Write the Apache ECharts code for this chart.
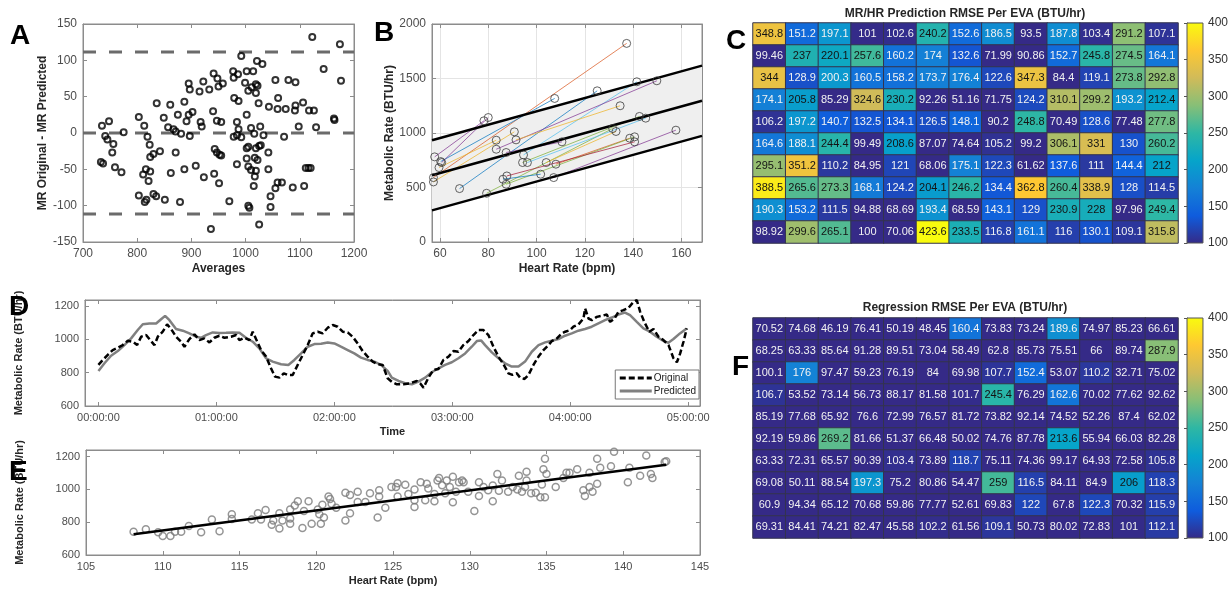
<!DOCTYPE html>
<html><head><meta charset="utf-8">
<script src="https://cdn.jsdelivr.net/npm/echarts@6/dist/echarts.min.js"></script>
<style>html,body{margin:0;padding:0;background:#fff}#c{width:1231px;height:594px}</style>
</head><body><div id="c"></div>
<script>
// ---------- Panel A (Bland-Altman) ----------
const aAvg = [735,748,775,741,745,756,754,733,737,759,771,
803,813,819,823,824,830,842,803,814,817,830,835,851,811,816,821,824,
836,849,857,861,867,871,875,881,887,891,895,897,862,871,887,879,
895,897,902,915,922,917,919,908,923,933,940,941,948,950,958,947,955,943,947,952,955,942,951,936,
970,977,978,979,987,992,986,999,1002,984,987,978,984,992,984,1002,1002,1005,1002,1005,1005,1007,1010,1005,1011,1019,1021,1014,1019,1022,1031,1024,1027,1016,1010,1015,1017,1019,1017,1019,1022,1025,1028,1033,1025,1042,1042,1043,1046,1046,
1055,1059,1067,1055,1060,1059,1071,1074,1079,1092,1087,1091,1092,1098,1106,1108,1111,1116,1120,1117,1126,1130,1123,1144,1163,1164,1174,1176];
const aDiff = [10,16,1,-4,-9,-15,-27,-40,-42,-47,-54,
22,10,-5,-16,-33,-29,-25,-86,-95,-92,-84,-87,-92,-57,-50,-66,-53,
41,21,8,39,5,2,25,-1,43,16,25,-4,-55,-27,-50,-95,
68,60,29,57,71,15,9,-45,-61,60,30,82,75,64,68,17,15,-22,-27,-30,-31,-56,-69,-132,
-94,85,76,48,44,106,81,69,85,15,5,-5,-3,-6,-43,25,-21,-19,-35,-46,-100,-103,7,58,63,67,99,85,55,65,95,41,9,-1,-51,-73,-60,-52,-34,-21,-37,-18,-17,-3,-126,-27,-50,36,-87,-102,
-76,-68,-68,73,48,33,-5,33,73,70,-75,31,38,9,42,-73,-48,-48,-48,31,31,8,132,88,20,18,122,72];
const aLimits = [-111.5, 0, 111.5];
const aLimitX = [700, 1200];

// ---------- Panel B (HR vs MR pairs with band) ----------
const bStartHR = [57.3,60.3,68.1,94.6,57.8,60.7,59.6,57.3,83.3,91.5,87.4,79.3,94.2,96.2,104,108,87.4,107.1,87.7,86.1];
const bStartMR = [591,738,490,799,781,729,683,551,851,937,821,447,729,729,729,714,530,591,606,576];
const bEndHR   = [137.3,107.5,125.1,141.5,78.2,80,83.3,90.8,149.8,134.6,110.5,131.5,142.6,145.2,132.9,138.6,140.6,157.7,140.6,101.7];
const bEndMR   = [1822,1317,1387,1470,1112,1142,934,1011,1479,1250,919,1041,1152,1136,1014,952,965,1026,919,622];
const bPairColors = ['#D95319','#0072BD','#0072BD','#4DBEEE','#7E2F8E','#7E2F8E','#EDB120','#EDB120','#7E2F8E','#EDB120','#7E2F8E','#77AC30','#77AC30','#4DBEEE','#EDB120','#D95319','#77AC30','#7E2F8E','#A2142F','#0072BD'];
const bLineHR = [56.7, 168.5];
const bUpper  = [934, 1618];
const bMid    = [612, 1296];
const bLower  = [290, 974];

// ---------- Panel C (MR/HR prediction RMSE) ----------
const cValues = [
[348.8,151.2,197.1,101,102.6,240.2,152.6,186.5,93.5,187.8,103.4,291.2,107.1],
[99.46,237,220.1,257.6,160.2,174,132.6,71.99,90.86,152.7,245.8,274.5,164.1],
[344,128.9,200.3,160.5,158.2,173.7,176.4,122.6,347.3,84.4,119.1,273.8,292.8],
[174.1,205.8,85.29,324.6,230.2,92.26,51.16,71.75,124.2,310.1,299.2,193.2,212.4],
[106.2,197.2,140.7,132.5,134.1,126.5,148.1,90.2,248.8,70.49,128.6,77.48,277.8],
[164.6,188.1,244.4,99.49,208.6,87.07,74.64,105.2,99.2,306.1,331,130,260.2],
[295.1,351.2,110.2,84.95,121,68.06,175.1,122.3,61.62,137.6,111,144.4,212],
[388.5,265.6,273.3,168.1,124.2,204.1,246.2,134.4,362.8,260.4,338.9,128,114.5],
[190.3,153.2,111.5,94.88,68.69,193.4,68.59,143.1,129,230.9,228,97.96,249.4],
[98.92,299.6,265.1,100,70.06,423.6,233.5,116.8,161.1,116,130.1,109.1,315.8]];

// ---------- Panel F (Regression RMSE) ----------
const fValues = [
[70.52,74.68,46.19,76.41,50.19,48.45,160.4,73.83,73.24,189.6,74.97,85.23,66.61],
[68.25,63.33,85.64,91.28,89.51,73.04,58.49,62.8,85.73,75.51,66,89.74,287.9],
[100.1,176,97.47,59.23,76.19,84,69.98,107.7,152.4,53.07,110.2,32.71,75.02],
[106.7,53.52,73.14,56.73,88.17,81.58,101.7,245.4,76.29,162.6,70.02,77.62,92.62],
[85.19,77.68,65.92,76.6,72.99,76.57,81.72,73.82,92.14,74.52,52.26,87.4,62.02],
[92.19,59.86,269.2,81.66,51.37,66.48,50.02,74.76,87.78,213.6,55.94,66.03,82.28],
[63.33,72.31,65.57,90.39,103.4,73.89,118.7,75.11,74.36,99.17,64.93,72.58,105.8],
[69.08,50.11,88.54,197.3,75.2,80.86,54.47,259,116.5,84.11,84.9,206,118.3],
[60.9,94.34,65.12,70.68,59.86,77.77,52.61,69.83,122,67.8,122.3,70.32,115.9],
[69.31,84.41,74.21,82.47,45.58,102.2,61.56,109.1,50.73,80.02,72.83,101,112.1]];
const colorRange = [100, 400];

// ---------- Panel D (time series, hours) ----------
const dOrigT = [0,0.037,0.079,0.121,0.164,0.206,0.249,0.291,0.328,0.362,0.404,0.446,0.475,0.503,0.545,0.582,0.616,0.658,0.701,0.729,0.771,0.814,0.856,0.898,0.941,0.983,1.025,1.068,1.124,1.167,1.195,1.237,1.28,1.308,1.336,1.379,1.421,1.463,1.497,1.534,1.571,1.605,1.647,1.689,1.732,1.774,1.816,1.859,1.901,1.944,1.986,2.028,2.071,2.113,2.155,2.198,2.24,2.282,2.325,2.367,2.41,2.452,2.487,2.53,2.586,2.643,2.699,2.727,2.756,2.798,2.84,2.883,2.925,2.968,3.01,3.052,3.094,3.137,3.179,3.222,3.264,3.306,3.349,3.391,3.434,3.476,3.51,3.546,3.575,3.612,3.646,3.688,3.731,3.773,3.816,3.844,3.887,3.929,3.957,3.999,4.027,4.07,4.112,4.126,4.155,4.183,4.225,4.268,4.31,4.338,4.375,4.409,4.451,4.494,4.536,4.564,4.593,4.63,4.67,4.706,4.748,4.79,4.833,4.875,4.904,4.932,4.96,4.988];
const dOrig = [846,876,906,935,949,965,991,985,965,1015,1025,989,965,1015,1045,1089,1061,1015,985,955,1001,1029,995,1005,981,1009,1021,1009,1015,1025,995,1009,995,1045,1001,935,896,826,776,770,796,786,786,846,906,965,1035,1045,1035,1069,1085,1075,1045,1041,1015,975,929,896,866,850,846,766,745,730,730,736,750,736,710,770,816,822,876,896,929,925,965,989,1025,1055,1055,1025,955,896,850,796,786,796,770,762,786,846,896,935,965,989,1005,1035,1045,1055,1075,1089,1124,1184,1124,1114,1134,1140,1148,1104,1124,1164,1174,1188,1224,1234,1164,1100,1045,1061,1015,995,965,886,862,915,985,1065];
const dPredT = [0,0.051,0.107,0.164,0.22,0.277,0.333,0.376,0.432,0.489,0.531,0.565,0.602,0.658,0.715,0.771,0.828,0.87,0.912,0.969,1.025,1.082,1.138,1.195,1.251,1.308,1.364,1.421,1.477,1.548,1.61,1.661,1.718,1.774,1.831,1.887,1.944,2.0,2.056,2.113,2.169,2.226,2.282,2.339,2.395,2.452,2.487,2.544,2.6,2.657,2.713,2.77,2.826,2.883,2.939,2.996,3.052,3.109,3.165,3.208,3.244,3.278,3.335,3.392,3.447,3.504,3.561,3.617,3.674,3.731,3.787,3.843,3.9,3.956,4.013,4.069,4.125,4.182,4.239,4.295,4.352,4.408,4.464,4.507,4.564,4.62,4.676,4.733,4.79,4.832,4.875,4.93,4.987];
const dPred = [810,856,901,929,965,1005,1055,1090,1094,1094,1120,1140,1114,1061,1051,1035,1015,1009,1025,1041,1037,1039,1041,1039,1009,985,945,886,866,850,846,876,915,955,971,973,981,975,955,935,915,890,876,866,846,810,770,750,736,730,746,770,802,826,846,862,886,915,955,989,993,965,921,886,856,836,836,866,925,965,981,991,1001,1021,1035,1051,1061,1075,1095,1114,1130,1148,1160,1144,1104,1065,1045,1015,989,979,1001,1035,1065];
const dTimeTicks = ['00:00:00','01:00:00','02:00:00','03:00:00','04:00:00','05:00:00'];

// ---------- Panel E (HR vs MR scatter + regression) ----------
const eHR = [108.1,108.9,109.7,110,110.5,110.8,111.2,111.7,112.5,113.2,113.7,114.5,114.5,115.8,116.2,116.4,116.7,117.1,117.2,117.6,117.6,117.8,118.3,118.3,118.3,118.6,118.8,119.1,119.2,119.5,119.7,120.1,120.2,120.3,120.4,120.5,120.8,120.9,121,121.3,121.9,121.9,122.2,122.2,122.7,122.7,123.2,123.5,124,124.1,124.1,124.5,124.9,125.3,125.2,125.3,125.8,126,126.4,126.4,126.4,126.8,127.1,127.2,127.3,127.7,127.7,127.9,128,128.2,128.4,128.5,128.7,128.9,128.9,129.1,129.3,129.5,129.6,129.9,130.3,130.6,130.6,130.9,131.2,131.5,131.5,131.8,131.9,132.1,132.5,132.8,133.1,133.2,133.4,133.6,133.7,133.7,134,134.3,134.6,134.7,134.8,134.9,134.9,135,135.6,136.1,136.3,136.5,137,137.5,137.4,137.8,137.8,138,138.3,138.3,138.5,139.2,139.4,140.3,140.4,141.1,141.5,141.8,141.9,142.7,142.8];
const eMR = [742,757,738,716,716,742,742,777,738,816,745,849,820,816,855,816,874,784,810,855,761,810,790,823,878,902,927,765,868,927,790,878,849,790,907,829,956,941,913,888,980,810,855,966,985,923,923,976,829,956,995,888,1015,1038,1015,956,1028,972,892,933,999,1044,933,1034,1005,927,972,1054,1069,1025,976,1054,1015,921,1077,985,1044,1054,1044,985,868,1044,960,1015,995,927,1024,1093,991,1054,985,1015,999,1083,985,1015,1108,1054,976,980,952,1030,1122,1186,952,1093,1015,1069,1102,1102,1122,960,995,1015,1102,985,1034,1186,1132,1141,1229,1044,1132,1083,1206,1093,1069,1167,1171];
const eLineHR = [108.1, 142.8];
const eLineMR = [726, 1150];

// ---------- styling / build ----------
const FONT = '"Liberation Sans", Arial, Helvetica, sans-serif';
const parula = ['#352a87','#0f5cdd','#1481d6','#06a4ca','#2eb7a4','#87bf77','#d1bb59','#fec832','#f9fb0e'];
const AX = '#8c8c8c';

function merge(a, b) {
  const r = Object.assign({}, a);
  for (const k in b) {
    const v = b[k];
    if (v && typeof v === 'object' && !Array.isArray(v) && r[k] && typeof r[k] === 'object' && !Array.isArray(r[k])) r[k] = merge(r[k], v);
    else r[k] = v;
  }
  return r;
}
const plain = v => String(v);
const baseAxis = {
  type: 'value',
  axisLine: {show: true, onZero: false, lineStyle: {color: AX, width: 1}},
  axisTick: {show: true, inside: true, length: 4, lineStyle: {color: AX}},
  axisLabel: {color: '#4d4d4d', fontSize: 12, fontFamily: FONT, margin: 6, formatter: plain},
  splitLine: {show: false},
  nameLocation: 'middle',
  nameTextStyle: {color: '#262626', fontWeight: 'bold', fontSize: 12, fontFamily: FONT}
};
const mirror = {axisLabel: {show: false}, name: ''};

const grids = [
  {left: 83, top: 24, width: 271, height: 218, show: true, borderColor: AX, borderWidth: 1},   // A
  {left: 432, top: 24, width: 270, height: 218, show: true, borderColor: AX, borderWidth: 1},  // B
  {left: 753, top: 23, width: 425, height: 220},                                               // C
  {left: 1187, top: 23, width: 18, height: 220},                                               // C bar
  {left: 85, top: 300, width: 615, height: 106, show: true, borderColor: AX, borderWidth: 1},  // D
  {left: 86, top: 450, width: 614, height: 105, show: true, borderColor: AX, borderWidth: 1},  // E
  {left: 753, top: 318, width: 425, height: 220},                                              // F
  {left: 1187, top: 318, width: 18, height: 220}                                               // F bar
];

const colsCat = cValues[0].map((_, i) => 'c' + i);
const rowsCat = cValues.map((_, i) => 'r' + i);

const xA = {gridIndex: 0, min: 700, max: 1200, interval: 100};
const xB = {gridIndex: 1, min: bLineHR[0], max: bLineHR[1], splitNumber: 5};
const xD = {gridIndex: 4, min: -0.114, max: 5.1, splitNumber: 5};
const xE = {gridIndex: 5, min: 105, max: 145, interval: 5};
const yA = {gridIndex: 0, min: -150, max: 150, interval: 50};
const yB = {gridIndex: 1, min: 0, max: 2000, interval: 500};
const yD = {gridIndex: 4, min: 600, max: 1235, interval: 200};
const yE = {gridIndex: 5, min: 600, max: 1240, interval: 200};
const gridLine = {show: true, lineStyle: {color: '#e4e4e4', width: 1}};

const xAxis = [
  merge(baseAxis, Object.assign({}, xA, {name: 'Averages', nameGap: 21})),
  merge(baseAxis, Object.assign({}, xB, {name: 'Heart Rate (bpm)', nameGap: 21, axisLabel: {showMinLabel: false, showMaxLabel: false}, splitLine: gridLine})),
  {type: 'category', gridIndex: 2, data: colsCat, show: false},
  {type: 'value', gridIndex: 3, min: 0, max: 1, show: false},
  merge(baseAxis, Object.assign({}, xD, {name: 'Time', nameGap: 20, nameTextStyle: {fontSize: 11},
    axisLabel: {fontSize: 11, showMinLabel: false, showMaxLabel: false, formatter: v => dTimeTicks[Math.round(v)] || ''}})),
  merge(baseAxis, Object.assign({}, xE, {name: 'Heart Rate (bpm)', nameGap: 20, nameTextStyle: {fontSize: 11}, axisLabel: {fontSize: 11}})),
  {type: 'category', gridIndex: 6, data: colsCat, show: false},
  {type: 'value', gridIndex: 7, min: 0, max: 1, show: false},
  merge(merge(baseAxis, xA), Object.assign({position: 'top'}, mirror)),
  merge(merge(baseAxis, xB), Object.assign({position: 'top'}, mirror)),
  merge(merge(baseAxis, xD), Object.assign({position: 'top'}, mirror)),
  merge(merge(baseAxis, xE), Object.assign({position: 'top'}, mirror))
];
const cbAxis = {type: 'value', min: colorRange[0], max: colorRange[1], interval: 50, position: 'right',
  axisLine: {show: true, lineStyle: {color: '#555'}}, axisTick: {show: true, inside: true, length: 3, lineStyle: {color: '#555'}},
  axisLabel: {color: '#333', fontSize: 12, fontFamily: FONT, margin: 5, formatter: plain}, splitLine: {show: false}};
const yAxis = [
  merge(baseAxis, Object.assign({}, yA, {name: 'MR Original - MR Predicted', nameGap: 29})),
  merge(baseAxis, Object.assign({}, yB, {name: 'Metabolic Rate (BTU/hr)', nameGap: 31, splitLine: gridLine})),
  {type: 'category', gridIndex: 2, data: rowsCat, inverse: true, show: false},
  Object.assign({gridIndex: 3}, cbAxis),
  merge(baseAxis, Object.assign({}, yD, {name: 'Metabolic Rate (BTU/hr)', nameGap: 61, nameTextStyle: {fontSize: 11}, axisLabel: {fontSize: 11, showMaxLabel: false}})),
  merge(baseAxis, Object.assign({}, yE, {name: 'Metabolic Rate (BTU/hr)', nameGap: 61, nameTextStyle: {fontSize: 11}, axisLabel: {fontSize: 11, showMaxLabel: false}})),
  {type: 'category', gridIndex: 6, data: rowsCat, inverse: true, show: false},
  Object.assign({gridIndex: 7}, cbAxis),
  merge(merge(baseAxis, yA), Object.assign({position: 'right'}, mirror)),
  merge(merge(baseAxis, yB), Object.assign({position: 'right'}, mirror)),
  merge(merge(baseAxis, yD), Object.assign({position: 'right'}, mirror)),
  merge(merge(baseAxis, yE), Object.assign({position: 'right'}, mirror))
];

const hollow = (c, w) => ({color: 'rgba(0,0,0,0)', borderColor: c, borderWidth: w});
const series = [];

// A
aLimits.forEach(v => series.push({type: 'line', xAxisIndex: 0, yAxisIndex: 0, silent: true, symbol: 'none',
  data: [[aLimitX[0], v], [aLimitX[1], v]], lineStyle: {color: '#6b6b6b', width: 3, type: [13, 13]}, z: 2}));
series.push({type: 'scatter', xAxisIndex: 0, yAxisIndex: 0, symbol: 'circle', symbolSize: 6,
  data: aAvg.map((x, i) => [x, aDiff[i]]), itemStyle: hollow('#000', 2), z: 3});

// B band (polygon between upper and lower limit lines)
series.push({type: 'custom', xAxisIndex: 1, yAxisIndex: 1, silent: true, z: 1,
  data: [[bLineHR[0], bMid[0]]],
  renderItem: (params, api) => {
    const up = bLineHR.map((x, i) => api.coord([x, bUpper[i]]));
    const lo = bLineHR.map((x, i) => api.coord([x, bLower[i]])).reverse();
    return {type: 'polygon', shape: {points: up.concat(lo)}, style: {fill: '#efefef'}};
  }});
bStartHR.forEach((x, i) => series.push({type: 'line', xAxisIndex: 1, yAxisIndex: 1, symbol: 'none', silent: true,
  data: [[x, bStartMR[i]], [bEndHR[i], bEndMR[i]]], lineStyle: {color: bPairColors[i], width: 1, opacity: 0.7}, z: 2}));
[bUpper, bMid, bLower].forEach(arr => series.push({type: 'line', xAxisIndex: 1, yAxisIndex: 1, symbol: 'none', silent: true,
  data: bLineHR.map((x, i) => [x, arr[i]]), lineStyle: {color: '#000', width: 2.5}, z: 3}));
series.push({type: 'scatter', xAxisIndex: 1, yAxisIndex: 1, symbol: 'circle', symbolSize: 8,
  data: bStartHR.map((x, i) => [x, bStartMR[i]]).concat(bEndHR.map((x, i) => [x, bEndMR[i]])),
  itemStyle: hollow('#3c3c3c', 1), z: 4});

// Heatmaps
function heatData(vals) {
  const out = [];
  vals.forEach((row, r) => row.forEach((v, c) => {
    const cv = Math.min(colorRange[1], Math.max(colorRange[0], v));
    out.push({value: [c, r, cv, v], label: {color: v >= 202 ? '#141414' : '#f2f2f2'}});
  }));
  return out;
}
const heatSeries = (xi, yi, vals) => ({type: 'heatmap', xAxisIndex: xi, yAxisIndex: yi, data: heatData(vals),
  label: {show: true, fontSize: 11, fontFamily: FONT, formatter: p => String(p.value[3])},
  itemStyle: {borderColor: '#34344e', borderWidth: 1}, emphasis: {disabled: true}, silent: true});
const cIdx = series.length; series.push(heatSeries(2, 2, cValues));
const fIdx = series.length; series.push(heatSeries(6, 6, fValues));

const cbStops = parula.map((c, i) => ({offset: i / (parula.length - 1), color: c}));
const colorbar = (xi, yi) => ({type: 'custom', xAxisIndex: xi, yAxisIndex: yi, silent: true, data: [[0, colorRange[0]]],
  renderItem: (params, api) => {
    const p0 = api.coord([0, colorRange[0]]), p1 = api.coord([1, colorRange[1]]);
    return {type: 'rect', shape: {x: p0[0], y: p1[1], width: p1[0] - p0[0], height: p0[1] - p1[1]},
      style: {fill: {type: 'linear', x: 0, y: 1, x2: 0, y2: 0, colorStops: cbStops}, stroke: '#555', lineWidth: 1}};
  }});
series.push(colorbar(3, 3));
series.push(colorbar(7, 7));

// D
series.push({type: 'line', name: 'Predicted', color: '#808080', xAxisIndex: 4, yAxisIndex: 4, symbol: 'none', showSymbol: false, silent: true,
  data: dPredT.map((t, i) => [t, dPred[i]]), lineStyle: {color: '#808080', width: 2.5}, z: 2});
series.push({type: 'line', name: 'Original', color: '#000', xAxisIndex: 4, yAxisIndex: 4, symbol: 'none', showSymbol: false, silent: true,
  data: dOrigT.map((t, i) => [t, dOrig[i]]), lineStyle: {color: '#000', width: 2.5, type: [6, 3]}, z: 3});

// E
series.push({type: 'scatter', xAxisIndex: 5, yAxisIndex: 5, symbol: 'circle', symbolSize: 7,
  data: eHR.map((x, i) => [x, eMR[i]]), itemStyle: hollow('#7a7a7a', 1.5), z: 2});
series.push({type: 'line', xAxisIndex: 5, yAxisIndex: 5, symbol: 'none', silent: true,
  data: eLineHR.map((x, i) => [x, eLineMR[i]]), lineStyle: {color: '#000', width: 2.5}, z: 3});

const letter = (t, x, y) => ({type: 'text', x: x, y: y, z: 100, style: {text: t, font: 'bold 28px ' + FONT, fill: '#000', textVerticalAlign: 'middle', verticalAlign: 'middle'}});
const title = (t, x, y) => ({type: 'text', x: x, y: y, style: {text: t, font: 'bold 12px ' + FONT, fill: '#262626', textAlign: 'center', align: 'center', textVerticalAlign: 'middle', verticalAlign: 'middle'}});

const option = {
  animation: false,
  textStyle: {fontFamily: FONT},
  grid: grids, xAxis: xAxis, yAxis: yAxis, series: series,
  visualMap: [{type: 'continuous', show: false, seriesIndex: [cIdx, fIdx], dimension: 2,
    min: colorRange[0], max: colorRange[1], inRange: {color: parula}}],
  legend: {data: ['Original', 'Predicted'], orient: 'vertical', right: 532, top: 370, itemWidth: 32, itemHeight: 9, itemGap: 3,
    padding: [3, 3], borderColor: '#777', borderWidth: 1, backgroundColor: '#fff', itemStyle: {opacity: 0},
    lineStyle: {width: 3}, textStyle: {fontSize: 10, color: '#222', fontFamily: FONT, padding: [0, 0, 0, -3]}},
  graphic: [
    letter('A', 10, 36), letter('B', 374, 33), letter('C', 726, 41),
    letter('D', 9, 307), letter('E', 9, 472), letter('F', 732, 367),
    title('MR/HR Prediction RMSE Per EVA (BTU/hr)', 965, 14),
    title('Regression RMSE Per EVA (BTU/hr)', 965, 308)
  ]
};
const chart = echarts.init(document.getElementById('c'), null, {renderer: 'canvas'});
chart.setOption(option);
</script></body></html>
